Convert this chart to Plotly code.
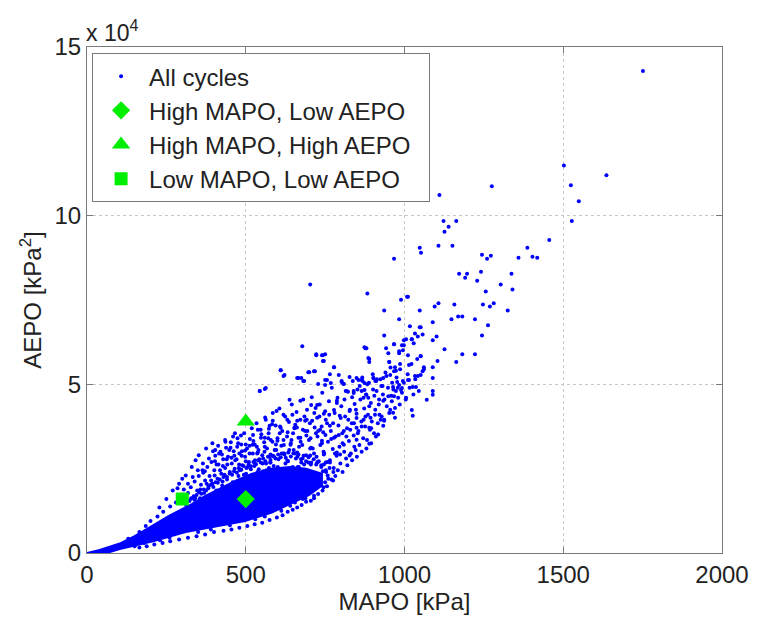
import plotly.graph_objects as go

# ---------------- data (MAPO in kPa, AEPO in units of 1e4 kPa^2) ----------------
# solid dense core of the cloud (outline)
core_mapo = [0, 72, 103, 208, 311, 414, 498, 582, 640, 700, 740,
             740, 690, 640, 580, 520, 470, 420, 370, 330, 290, 258, 208, 150, 103, 40, 0]
core_aepo = [0, 0.03, 0.12, 0.35, 0.62, 0.80, 0.95, 1.20, 1.45, 1.72, 2.00,
             2.35, 2.50, 2.55, 2.50, 2.35, 2.15, 1.92, 1.68, 1.45, 1.25, 1.10, 0.82, 0.50, 0.28, 0.09, 0]

# sparse cycles (outliers)
sparse_mapo = [
    1751, 1502, 1524, 1636, 1275, 1110, 1549, 1527, 1456, 1387, 1359, 1403, 1418, 1123, 1163, 1139, 1126, 1107, 1151, 1048,
    1052, 967, 1244, 1260, 1272, 1337, 1172, 1197, 1191, 1241, 1229, 1303, 1340, 1256, 1008, 989, 936, 1048, 1095, 1107,
    1157, 1247, 1269, 1281, 1325, 983, 1089, 1148, 1169, 1182, 1222, 1263, 1017, 1051, 936, 1033, 1057, 1042, 1023, 1005,
    1101, 1089, 1244, 967, 998, 942, 995, 983, 1011, 1051, 1126, 1182, 1222, 1163, 1104, 952, 986, 970, 967, 1061,
    1089, 1051, 1033, 1011, 1089, 977, 989, 964, 1026, 1036, 1089, 1089, 927, 911,
    703, 883, 678, 722, 740, 750, 743, 877, 886, 889, 610, 619, 697, 718, 778, 765, 750, 793, 662, 675,
    684, 728, 768, 802, 809, 849, 865, 874, 902, 544, 563, 815, 840, 874, 880,
    722, 743, 746, 610, 622, 700, 715, 778, 666, 681, 756, 750, 802, 827, 855, 868, 902, 908, 933, 955,
    983, 995, 1014, 1042, 1057, 1061, 880, 889, 949, 952, 983, 992, 998, 1051, 1014, 1029,
    544, 560, 638, 672, 706, 725, 787, 818, 840, 865, 886, 905, 933, 958, 973, 992, 1005, 1045, 1070, 1023, 1026,
    563, 585, 597, 619, 647, 662, 687, 725, 746, 778, 796, 827, 849, 871, 893, 921, 936, 964, 970, 933,
    889, 849, 809, 765, 734, 694, 653, 610, 575, 538,
    917, 889, 849, 809, 778, 740, 706, 672, 641, 600, 560, 522, 498, 538, 578, 622, 662, 703, 746, 787,
    827, 578, 631, 684, 725, 765, 1011, 1048, 967, 1023, 874,
    311, 342, 364, 330, 352, 375, 395, 404, 435, 466, 250, 270, 228, 290, 300,
]
sparse_aepo = [
    14.29, 11.49, 10.90, 11.20, 10.87, 10.61, 10.43, 9.84, 9.28, 9.05, 8.75, 8.78, 8.75, 9.84, 9.84, 9.67, 9.52, 9.11, 9.11, 9.05,
    8.90, 8.72, 8.84, 8.72, 8.81, 8.28, 8.28, 8.28, 8.16, 8.34, 8.07, 7.96, 7.81, 7.75, 7.60, 7.51, 7.19, 7.19, 7.31, 7.40,
    7.37, 7.37, 7.31, 7.40, 7.19, 6.93, 6.84, 6.93, 7.01, 7.01, 6.93, 6.75, 6.72, 6.69, 6.45, 6.51, 6.48, 6.42, 6.34, 6.34,
    6.42, 6.31, 6.45, 6.19, 6.16, 6.07, 6.01, 5.92, 5.86, 5.83, 6.04, 5.89, 5.89, 5.66, 5.69, 5.66, 5.60, 5.51, 5.39, 5.45,
    5.51, 5.28, 5.25, 5.13, 5.19, 5.07, 4.83, 4.92, 4.92, 4.92, 4.80, 4.69, 4.95, 5.10,
    7.96, 7.69, 6.13, 5.89, 5.86, 5.89, 5.69, 6.07, 5.78, 5.66, 5.42, 5.25, 5.36, 5.39, 5.51, 5.30, 5.13, 5.28, 5.19, 5.19,
    5.10, 5.01, 5.04, 5.10, 5.01, 5.19, 5.13, 5.04, 5.19, 4.80, 4.89, 4.80, 4.80, 4.83, 4.69,
    5.86, 5.86, 5.69, 5.42, 5.28, 5.36, 5.39, 5.51, 5.19, 5.10, 5.13, 4.98, 5.07, 5.22, 5.13, 5.10, 5.19, 5.10, 5.19, 5.28,
    4.98, 5.10, 5.13, 5.25, 5.39, 5.51, 6.07, 5.75, 5.92, 5.66, 5.98, 6.16, 6.31, 5.84, 5.57, 6.22,
    4.80, 4.86, 4.54, 4.51, 4.39, 4.39, 4.51, 4.80, 4.74, 4.80, 4.60, 4.66, 4.51, 4.66, 4.80, 4.89, 4.60, 4.80, 4.54, 4.24, 4.07,
    3.95, 3.92, 4.21, 4.10, 4.10, 3.92, 3.92, 4.01, 4.13, 4.24, 4.07, 4.21, 4.13, 3.95, 4.01, 4.10, 3.92, 4.16, 4.01, 3.77,
    3.71, 3.71, 3.62, 3.77, 3.65, 3.62, 3.71, 3.71, 3.77, 3.65,
    3.51, 3.24, 3.36, 3.21, 3.42, 3.33, 3.12, 3.42, 3.21, 3.33, 3.42, 3.21, 3.04, 2.98, 2.92, 2.92, 2.98, 2.89, 2.92, 2.98,
    2.89, 2.68, 2.74, 2.62, 2.68, 2.68, 7.60, 6.69, 6.19, 6.34, 6.10,
    2.30, 2.75, 2.45, 2.55, 2.90, 3.10, 3.25, 3.05, 3.35, 3.55, 1.60, 1.85, 1.35, 2.05, 2.20,
]

# dense band of cycles around the core
dense_mapo = [
    312, 318, 323, 327, 331, 336, 339, 344, 347, 352,
    356, 359, 363, 366, 369, 372, 376, 379, 382, 386, 389, 392, 395, 398, 401, 404, 407,
    411, 414, 417, 420, 423, 426, 429, 432, 435, 438, 441, 444, 447, 450, 453, 456, 459, 462, 465,
    468, 471, 474, 477, 480, 483, 486, 489, 492, 495, 498, 501, 504, 507, 510, 513, 516, 519, 522,
    525, 528, 531, 534, 537, 540, 543, 546, 549, 552, 555, 558, 561, 564, 567, 570, 573, 576, 579, 582,
    585, 588, 591, 594, 597, 600, 603, 606, 609, 612, 615, 618, 621, 624, 627, 630, 633, 636, 639, 642,
    645, 648, 651, 654, 657, 660, 663, 666, 669, 672, 675, 678, 681, 684, 687, 690, 693, 696, 699, 702,
    705, 708, 711, 714, 717, 720, 723, 726, 729, 732, 735, 738, 741, 744, 747, 750, 753, 756, 759, 762,
    765, 768, 771, 774, 777, 780, 783, 786, 789, 792, 795, 798, 801, 804, 807, 810, 813, 816, 819, 822,
    825, 828, 831, 834, 837, 840, 843, 846, 849, 852, 855, 858, 861, 864, 867, 870, 873, 876, 879, 882,
    885, 888, 891, 894, 897, 900, 904, 908, 912, 916, 920, 924, 928, 932, 936, 940, 944, 948, 952, 956,
    960, 965, 970, 975, 980, 986, 992, 998, 1004, 1010, 1016, 1022, 1028, 1034, 1040,
    600, 620, 640, 660, 680, 700, 715, 730, 745, 760, 775, 790, 805, 820, 835, 850, 865, 880, 895, 910,
    150, 180, 230, 260, 350, 390, 450, 530, 560, 612, 655, 688,
    130, 165, 185, 200, 222, 240, 262, 280, 295, 305, 285, 318,
    433, 481, 527, 573, 618, 664, 708, 752, 797, 842, 612, 571, 529, 487, 446, 404, 362, 651, 702, 743,
    333, 341, 349, 357, 365, 371, 377, 384, 391, 397, 402, 408, 413, 419, 425, 430, 436, 442, 448, 455,
    460, 467, 473, 479, 485,
    481, 487, 494, 500, 506, 512, 518, 523, 529, 535, 541, 547, 553, 559, 565, 571, 577, 583, 589, 595,
    601, 607, 613, 619, 625, 631, 637, 643, 649, 655,
    661, 667, 673, 679, 685, 691, 697, 703, 709, 715, 721, 727, 733, 739, 745, 751, 757, 763, 769, 775,
    781, 787, 793, 799, 805, 811, 817, 823, 829, 835, 841, 847, 853, 859, 865,
    871, 877, 883, 889, 895, 901, 907, 913, 919, 925, 931, 937, 943, 949, 955, 961, 967, 973, 979, 985,
]
dense_aepo = [
    1.42, 1.78, 1.55, 1.95, 1.38, 1.68, 2.12, 1.47, 1.85, 2.28,
    1.62, 2.02, 1.50, 2.38, 1.78, 2.15, 1.58, 2.55, 1.92, 2.28, 1.67, 2.70, 2.05, 1.75, 2.45, 2.88, 1.85,
    2.20, 2.62, 1.78, 3.00, 2.35, 2.00, 2.78, 1.90, 2.52, 3.12, 2.18, 2.85, 1.95, 2.40, 3.28, 2.65, 2.10, 3.02, 2.50,
    1.98, 2.78, 3.40, 2.28, 2.95, 2.15, 3.22, 2.60, 2.05, 3.55, 2.85, 2.35, 3.10, 2.12, 2.70, 3.38, 2.48, 3.70, 2.95,
    2.20, 3.22, 2.62, 3.85, 2.40, 3.05, 2.78, 2.18, 3.52, 2.90, 2.42, 3.28, 4.02, 2.65, 3.10, 2.30, 3.68, 2.85, 3.35, 2.20,
    4.15, 2.58, 3.05, 3.78, 2.35, 3.40, 2.78, 4.28, 2.12, 3.18, 3.62, 2.50, 2.95, 4.05, 2.30, 3.45, 2.72, 3.88, 2.15, 3.25,
    4.40, 2.55, 3.05, 3.70, 2.35, 4.18, 2.85, 3.42, 2.05, 3.95, 2.68, 3.20, 4.55, 2.45, 3.62, 2.90, 4.25, 2.20, 3.35, 3.85,
    2.62, 4.62, 3.10, 2.38, 3.72, 4.30, 2.85, 3.45, 2.10, 4.05, 3.20, 2.60, 4.75, 3.58, 2.95, 4.20, 2.40, 3.85, 3.30, 4.50,
    2.75, 3.62, 4.90, 3.08, 2.52, 4.15, 3.45, 2.88, 4.60, 3.78, 3.15, 2.65, 4.35, 3.55, 5.02, 3.00, 4.05, 2.80, 3.70, 4.78,
    3.32, 4.25, 2.95, 3.85, 5.10, 3.48, 4.42, 3.05, 4.00, 4.85, 3.62, 3.20, 4.55, 3.90, 5.20, 3.40, 4.28, 3.75, 4.70, 3.35,
    4.10, 5.05, 3.65, 4.45, 3.90, 5.30, 3.55, 4.25, 4.80, 3.85, 4.55, 5.15, 4.05, 4.70, 3.95, 5.35, 4.35, 4.90, 4.15, 5.50,
    4.50, 4.85, 4.30, 5.20, 4.60, 5.45, 4.75, 5.05, 4.55, 5.30, 4.90, 5.60, 4.70, 5.15, 5.75,
    1.35, 1.55, 1.40, 1.75, 1.60, 1.85, 1.70, 2.00, 1.95, 2.20, 2.15, 2.45, 2.40, 2.60, 2.75, 2.85, 3.00, 3.10, 3.25, 3.45,
    0.20, 0.30, 0.38, 0.45, 0.62, 0.70, 0.82, 1.00, 1.08, 1.25, 1.50, 1.62,
    0.42, 0.62, 0.80, 0.95, 1.08, 1.22, 1.38, 1.50, 1.72, 1.88, 1.92, 2.05,
    2.32, 2.48, 2.58, 2.52, 2.45, 2.55, 2.35, 2.68, 2.92, 3.15, 1.85, 1.72, 1.65, 1.58, 1.50, 1.40, 1.30, 2.02, 2.18, 2.42,
    2.25, 1.62, 2.45, 1.88, 2.65, 2.42, 2.05, 2.80, 2.15, 3.02, 2.30, 2.62, 3.18, 2.45, 2.92, 2.25, 3.30, 2.62, 3.05, 2.82,
    3.45, 2.75, 3.15, 2.62, 3.48,
    2.45, 2.88, 2.32, 3.22, 2.55, 2.95, 2.30, 3.50, 2.75, 3.15, 2.48, 3.65, 2.65, 3.00, 2.45, 3.40, 2.68, 3.82, 2.85, 3.22,
    2.55, 3.55, 2.95, 3.35, 2.65, 3.95, 3.05, 2.48, 3.55, 2.95,
    3.72, 2.55, 3.30, 2.80, 4.05, 3.48, 2.68, 3.10, 3.92, 2.95, 3.55, 2.70, 4.40, 3.75, 3.00, 3.50, 2.70, 4.10, 3.38, 3.85,
    2.95, 4.45, 3.50, 4.00, 3.25, 4.55, 3.45, 3.95, 3.65, 4.62, 3.85, 4.25, 3.55, 4.95, 3.75,
    4.60, 4.05, 5.00, 4.35, 3.70, 4.85, 4.10, 5.15, 4.40, 3.95, 4.95, 4.55, 5.25, 4.65, 4.25, 5.05, 4.65, 5.40, 4.90, 4.40,
]

# cycles along the edge of the core
edge_mapo = [
    322, 328, 338, 345, 353, 360, 368, 375, 383, 390, 398, 405, 412, 418, 427, 434, 441, 449, 457, 463,
    472, 478, 486, 493, 502, 509, 516, 524, 532, 539, 547, 555, 562, 570, 578, 586, 594, 602, 610, 618,
    626, 634, 642, 650, 658, 666, 674, 682, 690, 698, 706, 714, 722, 730, 738, 746, 752, 758, 764, 770,
    776, 782, 750, 756, 742, 728, 715, 705, 690, 676, 662, 648, 632, 616, 598, 575, 552, 528, 505, 480,
    455, 430, 400, 372, 345, 318, 290, 262, 238, 212, 188, 165,
    403, 416, 428, 440, 452, 464, 476, 488, 500, 512, 524, 536, 548, 560, 572, 584, 596, 608, 620, 632,
    644, 656, 668, 680, 692, 704, 716, 728, 740, 752,
]
edge_aepo = [
    1.55, 1.62, 1.58, 1.72, 1.80, 1.76, 1.88, 1.85, 1.98, 2.02, 1.96, 2.10, 2.08, 2.18, 2.12, 2.28, 2.25, 2.36, 2.32, 2.42,
    2.38, 2.52, 2.47, 2.58, 2.52, 2.62, 2.57, 2.70, 2.64, 2.75, 2.68, 2.80, 2.72, 2.85, 2.76, 2.88, 2.80, 2.92, 2.84, 2.95,
    2.82, 2.98, 2.86, 2.96, 2.80, 2.92, 2.78, 2.88, 2.72, 2.84, 2.68, 2.78, 2.62, 2.72, 2.55, 2.62, 2.45, 2.30, 2.52, 2.18,
    2.40, 2.28, 2.10, 1.98, 1.85, 1.75, 1.62, 1.55, 1.52, 1.42, 1.35, 1.28, 1.22, 1.12, 1.05, 0.98, 0.90, 0.85, 0.80, 0.75,
    0.70, 0.66, 0.62, 0.55, 0.50, 0.45, 0.40, 0.35, 0.30, 0.25, 0.20, 0.16,
    2.72, 2.95, 2.58, 2.78, 3.12, 2.88, 3.25, 3.02, 2.72, 3.18, 3.32, 2.95, 3.42, 3.15, 3.55, 3.30, 3.05, 3.75, 3.20, 3.58,
    3.35, 3.80, 3.15, 3.65, 3.95, 3.40, 4.15, 3.62, 3.25, 3.95,
]

all_mapo = sparse_mapo + dense_mapo + edge_mapo
all_aepo = sparse_aepo + dense_aepo + edge_aepo

# highlighted cycles
hl_names = ["High MAPO, Low AEPO", "High MAPO, High AEPO", "Low MAPO, Low AEPO"]
hl_mapo = [500, 500, 300]
hl_aepo = [1.6, 3.9, 1.6]
hl_symbols = ["diamond", "triangle-up", "square"]
hl_sizes = [14, 16, 13]

# axis ticks
x_ticks = [0, 500, 1000, 1500, 2000]
y_ticks = [0, 5, 10, 15]

FONT = "Liberation Sans, Arial, sans-serif"
TXT = "#222222"
BLUE = "#0000FF"
GREEN = "#00EE00"
PAD = "\u00a0\u00a0"

fig = go.Figure()

fig.add_trace(go.Scatter(
    x=core_mapo, y=core_aepo, mode="lines", fill="toself",
    fillcolor=BLUE, line=dict(width=2, color=BLUE),
    showlegend=False, hoverinfo="skip"))

fig.add_trace(go.Scatter(
    x=all_mapo, y=all_aepo, mode="markers", name="All cycles" + PAD,
    marker=dict(color=BLUE, size=4, line=dict(width=0))))

for name, xv, yv, sym, sz in zip(hl_names, hl_mapo, hl_aepo, hl_symbols, hl_sizes):
    fig.add_trace(go.Scatter(
        x=[xv], y=[yv], mode="markers", name=name + PAD,
        marker=dict(color=GREEN, symbol=sym, size=sz, line=dict(width=0))))

axis_common = dict(
    showline=True, linecolor="#7a7a7a", linewidth=1, mirror="ticks",
    ticks="inside", ticklen=6, tickcolor="#7a7a7a",
    showgrid=True, gridcolor="#c8c8c8", griddash="dot", gridwidth=1,
    zeroline=False, tickfont=dict(size=24, color=TXT, family=FONT),
)

fig.update_xaxes(range=[0, 2000], tickvals=x_ticks, ticktext=[str(v) for v in x_ticks],
                 title=dict(text="MAPO [kPa]", font=dict(size=24, color=TXT, family=FONT), standoff=0),
                 **axis_common)
fig.update_yaxes(range=[0, 15], tickvals=y_ticks, ticktext=[str(v) for v in y_ticks],
                 title=dict(text="AEPO [kPa<sup>2</sup>]", font=dict(size=24, color=TXT, family=FONT), standoff=6),
                 **axis_common)

fig.add_annotation(xref="paper", yref="paper", x=0, y=1, xanchor="left", yanchor="bottom",
                   text="x 10<sup>4</sup>", showarrow=False, xshift=-3, yshift=-1,
                   font=dict(size=23, color=TXT, family=FONT))

fig.update_layout(
    width=761, height=617,
    margin=dict(l=87, r=31, t=47, b=61),
    paper_bgcolor="white", plot_bgcolor="white",
    font=dict(family=FONT, size=24, color=TXT),
    showlegend=True,
    legend=dict(x=0.008, y=0.988, xanchor="left", yanchor="top",
                bgcolor="white", bordercolor="#7a7a7a", borderwidth=1,
                font=dict(size=24, color=TXT, family=FONT),
                tracegroupgap=0, itemsizing="trace", itemwidth=46),
)

fig.write_html("out.html")
